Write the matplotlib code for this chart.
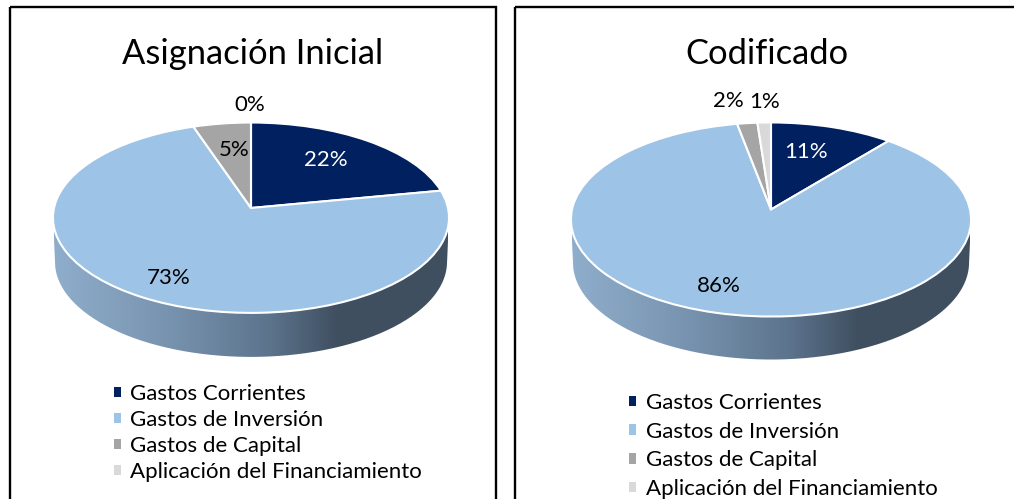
import numpy as np
import matplotlib
matplotlib.use('Agg')
import matplotlib.pyplot as plt
from matplotlib.colors import LinearSegmentedColormap
from matplotlib.patches import Patch, Rectangle, PathPatch
from matplotlib.path import Path
from matplotlib.transforms import Transform

plt.rcParams['font.family']=['Lato','DejaVu Sans']

categories=['Gastos Corrientes','Gastos de Inversión','Gastos de Capital','Aplicación del Financiamiento']
inicial_values=[22,72.8,5.2,0]
codificado_values=[11,86,1.8,1.2]
titles=['Asignación Inicial','Codificado']

slice_colors=['#002060','#9DC3E6','#A5A5A5','#D9D9D9']
wall_colors=[(0,'#8FAECB'),(0.3,'#7792AE'),(0.55,'#5C738C'),(0.72,'#3F4F60'),(1,'#3F5060')]

class TiltTransform(Transform):
    """Maps the unit pie circle to pixels with a small perspective, so the apex sits above the ellipse middle"""
    input_dims=2
    output_dims=2
    def __init__(self,cx,cy,a,b,k):
        super().__init__()
        self.cx,self.cy,self.a,self.b,self.k=cx,cy,a,b,k
    def transform_non_affine(self,values):
        values=np.asarray(values)
        d=1+self.k*values[:,1]
        return np.column_stack((self.cx+self.a*values[:,0]/d,self.cy-self.b*values[:,1]/d))

def drawpanel(ax,values,title,frame,geom,titlexy,labelxy,legendxy,legendspace):
    cx,cy,a,b,k,depth=geom
    tilt=TiltTransform(cx,cy,a,b,k)
    wedges,_=ax.pie(values,colors=slice_colors,startangle=90,counterclock=False,radius=1,wedgeprops={'edgecolor':'white','linewidth':1.5})
    ax.set_aspect('auto')
    ax.set_xticks([])
    ax.set_yticks([])
    for w in wedges:
        w.set_transform(tilt+ax.transData)
        w.set_zorder(3)
    # side wall under the pie, horizontal gradient clipped to the rim outline
    th=np.linspace(np.pi+np.arcsin(k),2*np.pi-np.arcsin(k),200)
    rim=np.column_stack((np.cos(th),np.sin(th)))
    low=tilt.transform_non_affine(rim)
    low[:,0]=cx+(low[:,0]-cx)*0.99
    low[:,1]=low[:,1]+depth
    top=tilt.transform_non_affine(rim[[-1,0]])
    outline=np.vstack((top[1],low,top[0],top[1]))
    wall=PathPatch(Path(outline),transform=ax.transData,facecolor='none',edgecolor='none')
    ax.add_patch(wall)
    cmap=LinearSegmentedColormap.from_list('wall',wall_colors)
    grad=np.linspace(0,1,256).reshape(1,-1)
    im=ax.imshow(grad,cmap=cmap,extent=(cx-a,cx+a,cy+b/(1-k)+depth+5,cy-b),aspect='auto',zorder=2)
    im.set_clip_path(wall)
    ax.set_xlim(0,1014)
    ax.set_ylim(499,0)
    ax.add_patch(Rectangle((frame[0],7),frame[1]-frame[0],530,fill=False,edgecolor='black',linewidth=1.7,clip_on=True,zorder=1))
    ax.text(titlexy[0],titlexy[1],title,fontsize=24.8,ha='center',va='center',color='black')
    for val,xy,col in zip(values,labelxy,['white','black','black','black']):
        ax.text(xy[0],xy[1],str(round(val))+'%',fontsize=16,ha='center',va='center',color=col,zorder=5)
    handles=[Patch(facecolor=c,edgecolor='none',label=n) for c,n in zip(slice_colors,categories)]
    ax.legend(handles=handles,loc='center left',bbox_to_anchor=legendxy,bbox_transform=ax.transData,frameon=False,
              fontsize=16,handlelength=0.33,handleheight=0.33,handletextpad=0.42,labelspacing=legendspace,borderpad=0,borderaxespad=0)

fig=plt.figure(figsize=(10.14,4.99),dpi=100)
ax=fig.add_axes([0,0,1,1])
ax2=fig.add_axes([0,0,1,1])
ax2.patch.set_alpha(0)

drawpanel(ax,inicial_values,titles[0],(9.5,496),(251,208,197,94.2,0.102,44),(252.5,54),
          [(326,160.5),(169,278.5),(234,150.5),(250,104.5)],(113.5,433),0.26)
drawpanel(ax2,codificado_values,titles[1],(514.5,1040),(771,209.5,199,96,0.103,43),(767,54),
          [(806,152.5),(719,286.5),(728,100.5),(765,101.5)],(629,446),0.40)

fig.savefig('out.png',dpi=100)
